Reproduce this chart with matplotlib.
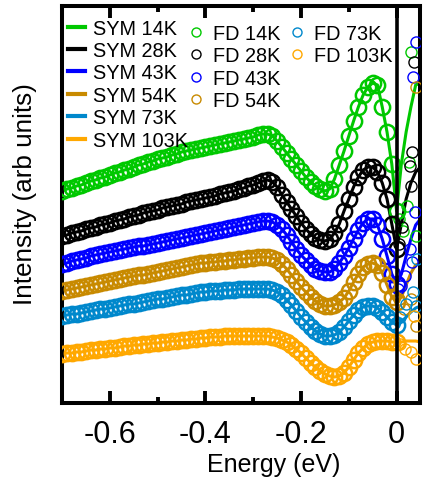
import matplotlib
matplotlib.use('Agg')
import matplotlib.pyplot as plt
from matplotlib.lines import Line2D
import numpy as np

plt.rcParams['font.family'] = ['Liberation Sans', 'DejaVu Sans']

# energy grid of the EDCs (eV), 10 meV steps up to E_F
energy = np.linspace(-0.70, 0.0, 71)

temps = ['14K', '28K', '43K', '54K', '73K', '103K']
colors = ['#00c800', '#000000', '#0000ff', '#c88a00', '#0088cc', '#ffa800']

# Fermi-Dirac divided EDCs (arb units, vertically offset)
fd_14k = [208, 210, 211, 213, 214, 216, 218, 219, 221, 222,
          224, 226, 227, 229, 230, 232, 234, 235, 237, 238,
          240, 241, 242, 244, 245, 247, 248, 249, 250, 251,
          252, 253, 254, 255, 256, 257, 258, 259, 260, 261,
          262, 264, 265, 265, 263, 258, 252, 246, 240, 234,
          228, 222, 217, 213, 210, 208, 210, 220, 234, 248,
          263, 278, 292, 304, 312, 316, 314, 292, 267, 235,
          188]
fd_28k = [163, 164, 166, 167, 168, 170, 171, 172, 174, 175,
          176, 178, 179, 180, 182, 183, 184, 186, 187, 188,
          189, 191, 192, 193, 194, 195, 197, 198, 199, 200,
          201, 202, 203, 205, 206, 207, 208, 210, 211, 213,
          214, 216, 218, 219, 217, 212, 204, 197, 190, 183,
          176, 170, 165, 161, 159, 158, 160, 166, 175, 188,
          200, 212, 222, 229, 232, 232, 227, 216, 200, 175,
          150]
fd_43k = [135, 136, 138, 139, 140, 141, 143, 144, 145, 146,
          147, 148, 149, 150, 151, 152, 153, 153, 154, 155,
          156, 157, 158, 159, 160, 161, 162, 163, 164, 165,
          166, 167, 168, 169, 170, 171, 172, 173, 174, 175,
          176, 177, 178, 178, 177, 174, 170, 164, 157, 150,
          144, 139, 134, 130, 128, 127, 127, 130, 136, 143,
          151, 160, 169, 176, 180, 180, 174, 160, 143, 125,
          115]
fd_54k = [108, 109, 110, 111, 112, 113, 114, 115, 116, 117,
          118, 119, 120, 121, 122, 123, 124, 124, 125, 126,
          127, 128, 129, 130, 131, 132, 133, 134, 135, 136,
          136, 137, 137, 138, 138, 139, 139, 140, 140, 141,
          141, 142, 142, 142, 141, 139, 135, 130, 124, 118,
          112, 107, 102, 98, 95, 93, 93, 94, 97, 101,
          108, 117, 125, 132, 135, 136, 134, 126, 114, 102,
          97]
fd_73k = [83, 84, 85, 85, 86, 87, 88, 89, 90, 90,
          91, 92, 93, 94, 95, 95, 96, 97, 98, 99,
          100, 100, 101, 102, 103, 104, 104, 105, 106, 107,
          107, 108, 108, 108, 109, 109, 109, 110, 110, 110,
          110, 110, 110, 110, 109, 107, 104, 99, 94, 88,
          82, 77, 72, 68, 65, 63, 63, 64, 67, 72,
          78, 84, 89, 92, 93, 93, 91, 87, 82, 77,
          74]
fd_103k = [45, 46, 46, 47, 47, 48, 49, 49, 50, 50,
           51, 51, 52, 53, 53, 54, 54, 55, 55, 56,
           56, 57, 57, 58, 58, 59, 59, 60, 60, 61,
           61, 62, 62, 62, 63, 63, 63, 63, 63, 63,
           63, 63, 63, 63, 62, 61, 59, 57, 54, 50,
           46, 41, 36, 32, 28, 25, 23, 22, 23, 26,
           32, 39, 46, 51, 55, 57, 58, 58, 58, 57,
           57]

# scattered FD points above E_F
above_e = [[0.006, 0.013, 0.021, 0.026, 0.031, 0.041],
           [0.005, 0.012, 0.029, 0.031, 0.033, 0.036],
           [0.004, 0.010, 0.017, 0.029, 0.033, 0.039, 0.040, 0.035],
           [0.006, 0.015, 0.031, 0.040, 0.041],
           [0.008, 0.020, 0.035, 0.040, 0.042],
           [0.008, 0.018, 0.030, 0.036, 0.040]]
above_i = [[180, 168, 193, 237, 347, 163],
           [155, 172, 233, 213, 247, 337],
           [110, 113, 123, 150, 137, 187, 357, 322],
           [100, 90, 100, 73, 312],
           [82, 95, 107, 93, 140],
           [55, 50, 47, 83, 40]]

fd_data = [fd_14k, fd_28k, fd_43k, fd_54k, fd_73k, fd_103k]

fig = plt.figure(figsize=(4.23, 4.85), dpi=100)
ax = fig.add_axes([0.147, 0.168, 0.847, 0.8176])

for i, (vals, col) in enumerate(zip(fd_data, colors)):
    vals = np.array(vals)
    # symmetrized EDC: mirror about E_F
    sym_e = np.concatenate([energy, -energy[::-1][1:]])
    sym_i = np.concatenate([vals, vals[::-1][1:]])
    ax.plot(sym_e, sym_i, color=col, lw=2.2, zorder=2)
    ax.plot(energy, vals, ls='none', marker='o', ms=11, mfc='none',
            mec=col, mew=1.8, zorder=3)
    ax.plot(above_e[i], above_i[i], ls='none', marker='o', ms=8,
            mfc='none', mec=col, mew=1.0, zorder=3)

ax.axvline(0, color='black', lw=2.6, zorder=4)

ax.set_xlim(-0.7, 0.05)
ax.set_ylim(-3.5, 393)
ax.set_xticks([-0.6, -0.4, -0.2, 0])
ax.set_xticklabels(['-0.6', '-0.4', '-0.2', '0'])
ax.set_xticks([-0.5, -0.3, -0.1], minor=True)
ax.set_yticks([])
ax.tick_params(axis='x', which='major', direction='in', top=True,
               length=8.5, width=2.8, labelsize=22, pad=12)
ax.tick_params(axis='x', which='minor', direction='in', top=True,
               length=4.5, width=2.8)
for sp in ax.spines.values():
    sp.set_linewidth(2.9)

ax.set_xlabel('Energy (eV)', fontsize=18)
ax.xaxis.set_label_coords(0.59, -0.125)
ax.set_ylabel('Intensity (arb units)', fontsize=18.8)
ax.yaxis.set_label_coords(-0.07, 0.528)

sym_handles = [Line2D([], [], color=c, lw=3) for c in colors]
fd_handles = [Line2D([], [], ls='none', marker='o', ms=6.5, mfc='none',
                     mec=c, mew=1.0) for c in colors]

leg_kw = dict(frameon=False, fontsize=14.3, borderpad=0, borderaxespad=0,
              labelspacing=0.17, handlelength=0.85)
leg1 = ax.legend(sym_handles, ['SYM ' + t for t in temps], loc='upper left',
                 bbox_to_anchor=(0.016, 0.968), handletextpad=0.4, **leg_kw)
ax.add_artist(leg1)
leg2 = ax.legend(fd_handles[:4], ['FD ' + t for t in temps[:4]],
                 loc='upper left', bbox_to_anchor=(0.349, 0.955),
                 handletextpad=0.45, **leg_kw)
ax.add_artist(leg2)
ax.legend(fd_handles[4:], ['FD ' + t for t in temps[4:]], loc='upper left',
          bbox_to_anchor=(0.631, 0.955), handletextpad=0.45, **leg_kw)

fig.savefig('out.png', dpi=100)
plt.close(fig)
